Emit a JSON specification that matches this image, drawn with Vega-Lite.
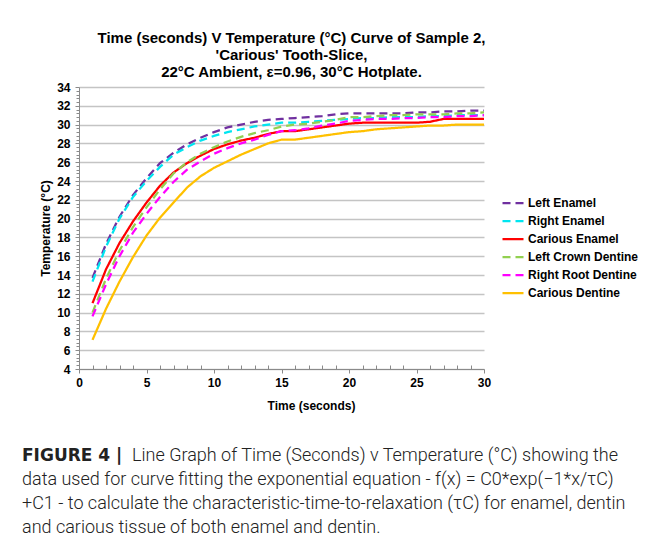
{
  "$schema": "https://vega.github.io/schema/vega-lite/v6.json",
  "background": "white",
  "padding": {"left": 22, "top": 30, "right": 5, "bottom": 5},
  "spacing": 36,
  "config": {
    "font": "Liberation Sans",
    "view": {"stroke": null},
    "axis": {
      "labelFont": "Liberation Sans", "labelFontWeight": "bold", "labelFontSize": 12, "labelColor": "#000",
      "titleFont": "Liberation Sans", "titleFontWeight": "bold", "titleFontSize": 12, "titleColor": "#000",
      "domainColor": "#8a8a8a", "tickColor": "#8a8a8a", "gridColor": "#c4c4c4", "gridWidth": 1.4
    }
  },
  "vconcat": [
    {
      "width": 405,
      "height": 282,
      "title": {
        "text": ["Time (seconds) V Temperature (°C) Curve of Sample 2,", "'Carious' Tooth-Slice,", "22°C Ambient, ε=0.96, 30°C Hotplate."],
        "font": "Liberation Sans", "fontSize": 15, "fontWeight": "bold", "color": "#000",
        "lineHeight": 17, "anchor": "middle", "frame": "group", "offset": 1.5, "dx": 10
      },
      "data": {"values": [
        {"series": "Left Enamel", "time": 1, "temp": 13.7}, {"series": "Left Enamel", "time": 2, "temp": 17.3}, {"series": "Left Enamel", "time": 3, "temp": 20.2}, {"series": "Left Enamel", "time": 4, "temp": 22.5}, {"series": "Left Enamel", "time": 5, "temp": 24.3}, {"series": "Left Enamel", "time": 6, "temp": 25.9}, {"series": "Left Enamel", "time": 7, "temp": 27.0}, {"series": "Left Enamel", "time": 8, "temp": 27.9}, {"series": "Left Enamel", "time": 9, "temp": 28.6}, {"series": "Left Enamel", "time": 10, "temp": 29.2},
        {"series": "Left Enamel", "time": 11, "temp": 29.7}, {"series": "Left Enamel", "time": 12, "temp": 30.0}, {"series": "Left Enamel", "time": 13, "temp": 30.3}, {"series": "Left Enamel", "time": 14, "temp": 30.5}, {"series": "Left Enamel", "time": 15, "temp": 30.6}, {"series": "Left Enamel", "time": 16, "temp": 30.7}, {"series": "Left Enamel", "time": 17, "temp": 30.8}, {"series": "Left Enamel", "time": 18, "temp": 30.9}, {"series": "Left Enamel", "time": 19, "temp": 31.1}, {"series": "Left Enamel", "time": 20, "temp": 31.2},
        {"series": "Left Enamel", "time": 21, "temp": 31.2}, {"series": "Left Enamel", "time": 22, "temp": 31.2}, {"series": "Left Enamel", "time": 23, "temp": 31.2}, {"series": "Left Enamel", "time": 24, "temp": 31.2}, {"series": "Left Enamel", "time": 25, "temp": 31.3}, {"series": "Left Enamel", "time": 26, "temp": 31.3}, {"series": "Left Enamel", "time": 27, "temp": 31.4}, {"series": "Left Enamel", "time": 28, "temp": 31.4}, {"series": "Left Enamel", "time": 29, "temp": 31.5}, {"series": "Left Enamel", "time": 30, "temp": 31.5},

        {"series": "Right Enamel", "time": 1, "temp": 13.3}, {"series": "Right Enamel", "time": 2, "temp": 17.0}, {"series": "Right Enamel", "time": 3, "temp": 20.0}, {"series": "Right Enamel", "time": 4, "temp": 22.3}, {"series": "Right Enamel", "time": 5, "temp": 24.0}, {"series": "Right Enamel", "time": 6, "temp": 25.5}, {"series": "Right Enamel", "time": 7, "temp": 26.8}, {"series": "Right Enamel", "time": 8, "temp": 27.6}, {"series": "Right Enamel", "time": 9, "temp": 28.3}, {"series": "Right Enamel", "time": 10, "temp": 28.8},
        {"series": "Right Enamel", "time": 11, "temp": 29.2}, {"series": "Right Enamel", "time": 12, "temp": 29.5}, {"series": "Right Enamel", "time": 13, "temp": 29.8}, {"series": "Right Enamel", "time": 14, "temp": 30.0}, {"series": "Right Enamel", "time": 15, "temp": 30.2}, {"series": "Right Enamel", "time": 16, "temp": 30.2}, {"series": "Right Enamel", "time": 17, "temp": 30.3}, {"series": "Right Enamel", "time": 18, "temp": 30.4}, {"series": "Right Enamel", "time": 19, "temp": 30.5}, {"series": "Right Enamel", "time": 20, "temp": 30.6},
        {"series": "Right Enamel", "time": 21, "temp": 30.7}, {"series": "Right Enamel", "time": 22, "temp": 30.7}, {"series": "Right Enamel", "time": 23, "temp": 30.8}, {"series": "Right Enamel", "time": 24, "temp": 30.8}, {"series": "Right Enamel", "time": 25, "temp": 30.8}, {"series": "Right Enamel", "time": 26, "temp": 30.9}, {"series": "Right Enamel", "time": 27, "temp": 30.9}, {"series": "Right Enamel", "time": 28, "temp": 31.0}, {"series": "Right Enamel", "time": 29, "temp": 31.0}, {"series": "Right Enamel", "time": 30, "temp": 31.0},

        {"series": "Carious Enamel", "time": 1, "temp": 11.0}, {"series": "Carious Enamel", "time": 2, "temp": 14.6}, {"series": "Carious Enamel", "time": 3, "temp": 17.4}, {"series": "Carious Enamel", "time": 4, "temp": 19.7}, {"series": "Carious Enamel", "time": 5, "temp": 21.7}, {"series": "Carious Enamel", "time": 6, "temp": 23.5}, {"series": "Carious Enamel", "time": 7, "temp": 24.9}, {"series": "Carious Enamel", "time": 8, "temp": 25.9}, {"series": "Carious Enamel", "time": 9, "temp": 26.7}, {"series": "Carious Enamel", "time": 10, "temp": 27.4},
        {"series": "Carious Enamel", "time": 11, "temp": 27.9}, {"series": "Carious Enamel", "time": 12, "temp": 28.3}, {"series": "Carious Enamel", "time": 13, "temp": 28.6}, {"series": "Carious Enamel", "time": 14, "temp": 29.0}, {"series": "Carious Enamel", "time": 15, "temp": 29.3}, {"series": "Carious Enamel", "time": 16, "temp": 29.3}, {"series": "Carious Enamel", "time": 17, "temp": 29.5}, {"series": "Carious Enamel", "time": 18, "temp": 29.7}, {"series": "Carious Enamel", "time": 19, "temp": 29.9}, {"series": "Carious Enamel", "time": 20, "temp": 30.1},
        {"series": "Carious Enamel", "time": 21, "temp": 30.2}, {"series": "Carious Enamel", "time": 22, "temp": 30.2}, {"series": "Carious Enamel", "time": 23, "temp": 30.2}, {"series": "Carious Enamel", "time": 24, "temp": 30.2}, {"series": "Carious Enamel", "time": 25, "temp": 30.2}, {"series": "Carious Enamel", "time": 26, "temp": 30.3}, {"series": "Carious Enamel", "time": 27, "temp": 30.6}, {"series": "Carious Enamel", "time": 28, "temp": 30.6}, {"series": "Carious Enamel", "time": 29, "temp": 30.6}, {"series": "Carious Enamel", "time": 30, "temp": 30.6},

        {"series": "Left Crown Dentine", "time": 1, "temp": 10.0}, {"series": "Left Crown Dentine", "time": 2, "temp": 13.6}, {"series": "Left Crown Dentine", "time": 3, "temp": 16.6}, {"series": "Left Crown Dentine", "time": 4, "temp": 19.1}, {"series": "Left Crown Dentine", "time": 5, "temp": 21.2}, {"series": "Left Crown Dentine", "time": 6, "temp": 23.1}, {"series": "Left Crown Dentine", "time": 7, "temp": 24.8}, {"series": "Left Crown Dentine", "time": 8, "temp": 26.0}, {"series": "Left Crown Dentine", "time": 9, "temp": 26.9}, {"series": "Left Crown Dentine", "time": 10, "temp": 27.6},
        {"series": "Left Crown Dentine", "time": 11, "temp": 28.2}, {"series": "Left Crown Dentine", "time": 12, "temp": 28.7}, {"series": "Left Crown Dentine", "time": 13, "temp": 29.1}, {"series": "Left Crown Dentine", "time": 14, "temp": 29.4}, {"series": "Left Crown Dentine", "time": 15, "temp": 29.8}, {"series": "Left Crown Dentine", "time": 16, "temp": 30.0}, {"series": "Left Crown Dentine", "time": 17, "temp": 30.1}, {"series": "Left Crown Dentine", "time": 18, "temp": 30.3}, {"series": "Left Crown Dentine", "time": 19, "temp": 30.5}, {"series": "Left Crown Dentine", "time": 20, "temp": 30.8},
        {"series": "Left Crown Dentine", "time": 21, "temp": 30.8}, {"series": "Left Crown Dentine", "time": 22, "temp": 30.9}, {"series": "Left Crown Dentine", "time": 23, "temp": 31.0}, {"series": "Left Crown Dentine", "time": 24, "temp": 31.0}, {"series": "Left Crown Dentine", "time": 25, "temp": 31.1}, {"series": "Left Crown Dentine", "time": 26, "temp": 31.1}, {"series": "Left Crown Dentine", "time": 27, "temp": 31.1}, {"series": "Left Crown Dentine", "time": 28, "temp": 31.2}, {"series": "Left Crown Dentine", "time": 29, "temp": 31.2}, {"series": "Left Crown Dentine", "time": 30, "temp": 31.3},

        {"series": "Right Root Dentine", "time": 1, "temp": 9.6}, {"series": "Right Root Dentine", "time": 2, "temp": 13.0}, {"series": "Right Root Dentine", "time": 3, "temp": 16.0}, {"series": "Right Root Dentine", "time": 4, "temp": 18.5}, {"series": "Right Root Dentine", "time": 5, "temp": 20.5}, {"series": "Right Root Dentine", "time": 6, "temp": 22.3}, {"series": "Right Root Dentine", "time": 7, "temp": 23.9}, {"series": "Right Root Dentine", "time": 8, "temp": 25.2}, {"series": "Right Root Dentine", "time": 9, "temp": 26.1}, {"series": "Right Root Dentine", "time": 10, "temp": 26.9},
        {"series": "Right Root Dentine", "time": 11, "temp": 27.5}, {"series": "Right Root Dentine", "time": 12, "temp": 28.0}, {"series": "Right Root Dentine", "time": 13, "temp": 28.4}, {"series": "Right Root Dentine", "time": 14, "temp": 28.9}, {"series": "Right Root Dentine", "time": 15, "temp": 29.3}, {"series": "Right Root Dentine", "time": 16, "temp": 29.4}, {"series": "Right Root Dentine", "time": 17, "temp": 29.6}, {"series": "Right Root Dentine", "time": 18, "temp": 29.9}, {"series": "Right Root Dentine", "time": 19, "temp": 30.1}, {"series": "Right Root Dentine", "time": 20, "temp": 30.4},
        {"series": "Right Root Dentine", "time": 21, "temp": 30.5}, {"series": "Right Root Dentine", "time": 22, "temp": 30.6}, {"series": "Right Root Dentine", "time": 23, "temp": 30.6}, {"series": "Right Root Dentine", "time": 24, "temp": 30.7}, {"series": "Right Root Dentine", "time": 25, "temp": 30.7}, {"series": "Right Root Dentine", "time": 26, "temp": 30.8}, {"series": "Right Root Dentine", "time": 27, "temp": 30.8}, {"series": "Right Root Dentine", "time": 28, "temp": 30.9}, {"series": "Right Root Dentine", "time": 29, "temp": 30.9}, {"series": "Right Root Dentine", "time": 30, "temp": 31.0},

        {"series": "Carious Dentine", "time": 1, "temp": 7.1}, {"series": "Carious Dentine", "time": 2, "temp": 10.4}, {"series": "Carious Dentine", "time": 3, "temp": 13.3}, {"series": "Carious Dentine", "time": 4, "temp": 15.9}, {"series": "Carious Dentine", "time": 5, "temp": 18.2}, {"series": "Carious Dentine", "time": 6, "temp": 20.1}, {"series": "Carious Dentine", "time": 7, "temp": 21.7}, {"series": "Carious Dentine", "time": 8, "temp": 23.3}, {"series": "Carious Dentine", "time": 9, "temp": 24.5}, {"series": "Carious Dentine", "time": 10, "temp": 25.4},
        {"series": "Carious Dentine", "time": 11, "temp": 26.1}, {"series": "Carious Dentine", "time": 12, "temp": 26.8}, {"series": "Carious Dentine", "time": 13, "temp": 27.4}, {"series": "Carious Dentine", "time": 14, "temp": 28.0}, {"series": "Carious Dentine", "time": 15, "temp": 28.4}, {"series": "Carious Dentine", "time": 16, "temp": 28.4}, {"series": "Carious Dentine", "time": 17, "temp": 28.6}, {"series": "Carious Dentine", "time": 18, "temp": 28.8}, {"series": "Carious Dentine", "time": 19, "temp": 29.0}, {"series": "Carious Dentine", "time": 20, "temp": 29.2},
        {"series": "Carious Dentine", "time": 21, "temp": 29.3}, {"series": "Carious Dentine", "time": 22, "temp": 29.5}, {"series": "Carious Dentine", "time": 23, "temp": 29.6}, {"series": "Carious Dentine", "time": 24, "temp": 29.7}, {"series": "Carious Dentine", "time": 25, "temp": 29.8}, {"series": "Carious Dentine", "time": 26, "temp": 29.9}, {"series": "Carious Dentine", "time": 27, "temp": 29.9}, {"series": "Carious Dentine", "time": 28, "temp": 30.0}, {"series": "Carious Dentine", "time": 29, "temp": 30.0}, {"series": "Carious Dentine", "time": 30, "temp": 30.0}
      ]},
      "layer": [
        {
          "mark": {"type": "line", "strokeWidth": 2.25},
          "encoding": {
            "x": {"field": "time", "type": "quantitative", "scale": {"domain": [0, 30], "nice": false},
              "axis": {"orient": "bottom", "values": [0, 5, 10, 15, 20, 25, 30], "title": "Time (seconds)", "grid": false, "tickSize": 4, "labelPadding": 4, "titlePadding": 12, "titleX": 232, "labelFlush": false}},
            "y": {"field": "temp", "type": "quantitative", "scale": {"domain": [4, 34], "nice": false, "zero": false},
              "axis": {"orient": "left", "values": [4, 6, 8, 10, 12, 14, 16, 18, 20, 22, 24, 26, 28, 30, 32, 34], "title": "Temperature (°C)", "grid": true, "tickSize": 4, "labelPadding": 5, "titlePadding": 4, "labelFlush": false}},
            "color": {"field": "series", "type": "nominal",
              "scale": {"domain": ["Left Enamel", "Right Enamel", "Carious Enamel", "Left Crown Dentine", "Right Root Dentine", "Carious Dentine"],
                        "range": ["#7030A0", "#00E5F0", "#FF0000", "#92D050", "#FF00FF", "#FFC000"]},
              "legend": {"orient": "none", "legendX": 422, "legendY": 104, "title": null, "symbolType": "stroke", "symbolSize": 441, "symbolStrokeWidth": 2.25, "labelFont": "Liberation Sans", "labelFontSize": 12, "labelFontWeight": "bold", "labelColor": "#000", "rowPadding": -0.3, "labelOffset": 3, "padding": 0}},
            "strokeDash": {"field": "series", "type": "nominal",
              "scale": {"domain": ["Left Enamel", "Right Enamel", "Carious Enamel", "Left Crown Dentine", "Right Root Dentine", "Carious Dentine"],
                        "range": [[8, 5], [8, 5], [1, 0], [8, 5], [8, 5], [1, 0]]},
              "legend": {"orient": "none", "legendX": 422, "legendY": 104, "title": null, "symbolType": "stroke", "symbolSize": 441, "symbolStrokeWidth": 2.25, "labelFont": "Liberation Sans", "labelFontSize": 12, "labelFontWeight": "bold", "labelColor": "#000", "rowPadding": -0.3, "labelOffset": 3, "padding": 0}}
          }
        },
        {
          "mark": {"type": "point", "opacity": 0},
          "encoding": {
            "x": {"field": "time", "type": "quantitative",
              "axis": {"orient": "bottom", "values": [1, 2, 3, 4, 6, 7, 8, 9, 11, 12, 13, 14, 16, 17, 18, 19, 21, 22, 23, 24, 26, 27, 28, 29], "labels": false, "domain": false, "grid": false, "title": null, "tickSize": -4}},
            "y": {"field": "temp", "type": "quantitative",
              "axis": {"orient": "left", "values": [4.4, 4.8, 5.2, 5.6, 6.4, 6.8, 7.2, 7.6, 8.4, 8.8, 9.2, 9.6, 10.4, 10.8, 11.2, 11.6, 12.4, 12.8, 13.2, 13.6, 14.4, 14.8, 15.2, 15.6, 16.4, 16.8, 17.2, 17.6, 18.4, 18.8, 19.2, 19.6, 20.4, 20.8, 21.2, 21.6, 22.4, 22.8, 23.2, 23.6, 24.4, 24.8, 25.2, 25.6, 26.4, 26.8, 27.2, 27.6, 28.4, 28.8, 29.2, 29.6, 30.4, 30.8, 31.2, 31.6, 32.4, 32.8, 33.2, 33.6], "labels": false, "domain": false, "grid": false, "title": null, "tickSize": 3}}
          }
        }
      ],
      "resolve": {"axis": {"x": "independent", "y": "independent"}}
    },
    {
      "width": 600,
      "height": 72,
      "data": {"values": [
        {"line": 1, "part": "lead", "text": "FIGURE 4 |"},
        {"line": 1, "part": "body", "text": "Line Graph of Time (Seconds) v Temperature (°C) showing the"},
        {"line": 2, "part": "body", "text": "data used for curve fitting the exponential equation - f(x) = C0*exp(−1*x/τC)"},
        {"line": 3, "part": "body", "text": "+C1 - to calculate the characteristic-time-to-relaxation (τC) for enamel, dentin"},
        {"line": 4, "part": "body", "text": "and carious tissue of both enamel and dentin."}
      ]},
      "encoding": {
        "y": {"field": "line", "type": "ordinal", "axis": null, "scale": {"type": "point", "padding": 0}},
        "text": {"field": "text"}
      },
      "layer": [
        {"transform": [{"filter": "datum.part == 'lead'"}],
         "mark": {"type": "text", "align": "left", "baseline": "middle", "font": "DejaVu Sans", "fontSize": 17, "fontWeight": "bold", "color": "#222", "x": 0, "dx": -57}},
        {"transform": [{"filter": "datum.part == 'body' && datum.line == 1"}],
         "mark": {"type": "text", "align": "left", "baseline": "middle", "font": "Roboto", "fontSize": 18, "fontWeight": 300, "color": "#222", "x": 0, "dx": 53}},
        {"transform": [{"filter": "datum.line > 1"}],
         "mark": {"type": "text", "align": "left", "baseline": "middle", "font": "Roboto", "fontSize": 18, "fontWeight": 300, "color": "#222", "x": 0, "dx": -57}}
      ]
    }
  ]
}
